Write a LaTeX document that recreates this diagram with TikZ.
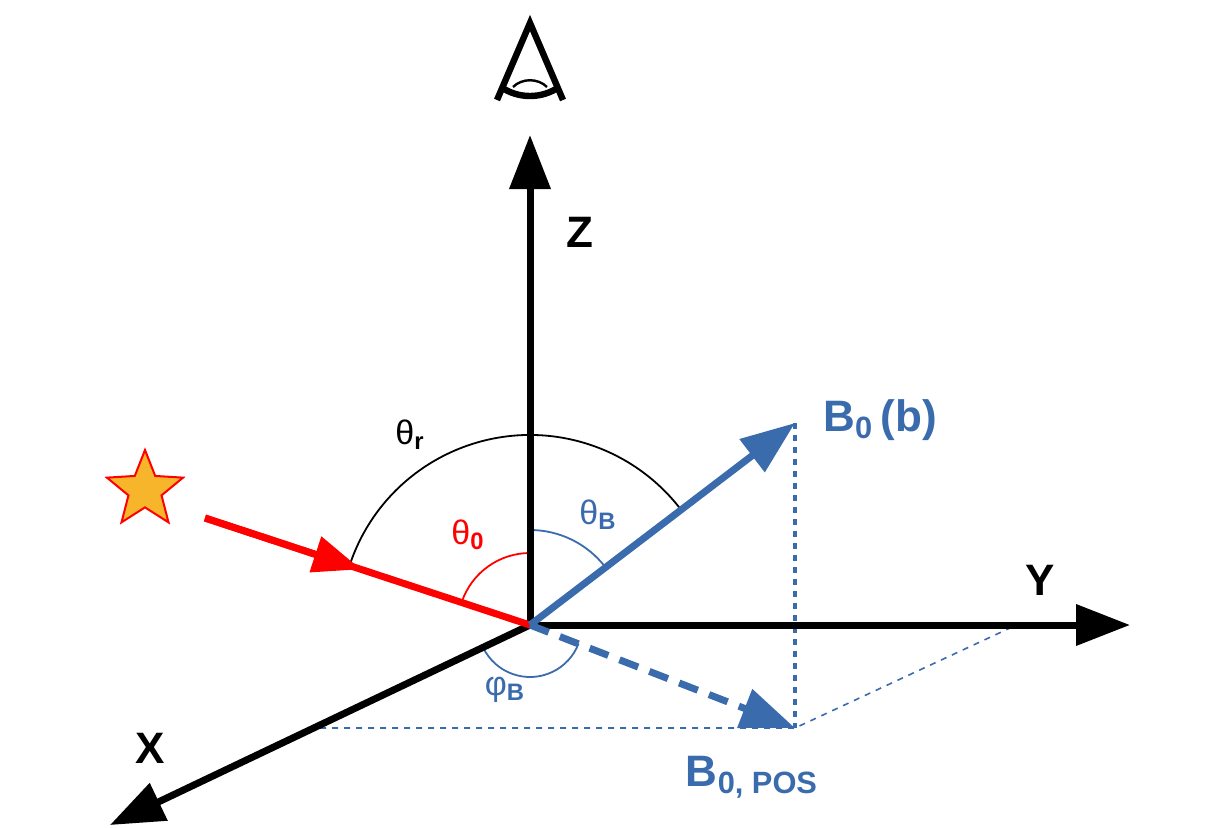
\documentclass[tikz,border=0pt]{standalone}
\usepackage{fontspec}
\setmainfont{Liberation Sans}
\usetikzlibrary{arrows.meta,positioning,calc,shapes.geometric}
\definecolor{bblue}{HTML}{3A6BAD}
\definecolor{sorange}{HTML}{F7B52C}
\tikzset{
  axis/.style={line width=3.5pt,-{Triangle[length=27pt,width=20pt]}},
  lbl/.style={font=\bfseries\fontsize{22}{24}\selectfont},
  ang/.style={font=\fontsize{17}{19}\selectfont},
  guide/.style={bblue,dashed,line width=0.8pt}
}
\begin{document}
\begin{tikzpicture}[x=0.5pt,y=0.5pt]
				\useasboundingbox (0,0) rectangle (1221,827);
				% Points
				\coordinate (o) at (530,202);
				\coordinate (ztip) at (530,692);
				\coordinate (ytip) at (1130,202);
				\coordinate (xtip) at (110,2);
				\coordinate (bzero) at (795,404);
				\coordinate (bpos) at (795,99);
				\coordinate (xfoot) at (320,99);
				\coordinate (yfoot) at (1010,199);
				\coordinate (ray) at (205,309);
				
				% Eye
				\draw[line width=3.2pt,line join=miter] (497,727) -- (530,804) -- (563,727);
				\draw[line width=3.2pt] (501,740) .. controls (518,728) and (542,728) .. (559,740);
				\draw[line width=1.2pt] (513,740) .. controls (522,749) and (538,749) .. (547,740);
				
				% Guides
				\draw[guide] (xfoot) -- (bpos) -- (yfoot);
				\draw[guide,line width=1.6pt] (bzero) -- (bpos);
				
				% Angles
				\draw[line width=0.9pt] (o) ++(161:190) arc[start angle=161,end angle=37.5,radius=190];
				\draw[red,line width=0.9pt] (o) ++(90:72) arc[start angle=90,end angle=161,radius=72];
				\draw[bblue,line width=0.9pt] (o) ++(90:95) arc[start angle=90,end angle=37.5,radius=95];
				\draw[bblue,line width=0.9pt] (o) ++(205.5:52) arc[start angle=205.5,end angle=339,radius=52];
				
				% Axes
				\draw[axis] (o) -- (ztip);
				\draw[axis] (o) -- (ytip);
				\draw[axis] (o) -- (xtip);
				
				% Ray and field
				\draw[red,line width=3.5pt] (ray) -- (o);
				\draw[red,line width=3.5pt,-{Triangle[length=24pt,width=18pt]}] (ray) -- ($(ray)!0.48!(o)$);
				\draw[bblue,line width=3.5pt,-{Triangle[length=27pt,width=20pt]}] (o) -- (bzero);
				\draw[bblue,line width=3.5pt,dashed,dash pattern=on 10pt off 6pt,-{Triangle[length=27pt,width=20pt]}] (o) -- (bpos);
				
				% Star
				\node[star,star points=5,star point ratio=2.3,draw=red,fill=sorange,line width=1pt,minimum size=40pt,inner sep=0pt] (src) at (145,337) {};
				
				% Labels
				\node[lbl] (zl) at (580,595) {Z};
				\node[lbl] (yl) at (1040,247) {Y};
				\node[lbl] (xl) at (150,79) {X};
				\node[ang] (tr) at (410,392) {θ\textsubscript{\bfseries r}};
				\node[ang,red] (t0) at (468,292) {θ\textsubscript{\bfseries 0}};
				\node[ang,bblue] (tb) at (598,312) {θ\textsubscript{\bfseries B}};
				\node[ang,bblue] (pb) at (505,137) {φ\textsubscript{\bfseries B}};
				\node[lbl,bblue] (bl) at (880,407) {B\textsubscript{0}\,(b)};
				\node[lbl,bblue] (pl) at (752,50) {B\textsubscript{0, POS}};
			\end{tikzpicture}
\end{document}
